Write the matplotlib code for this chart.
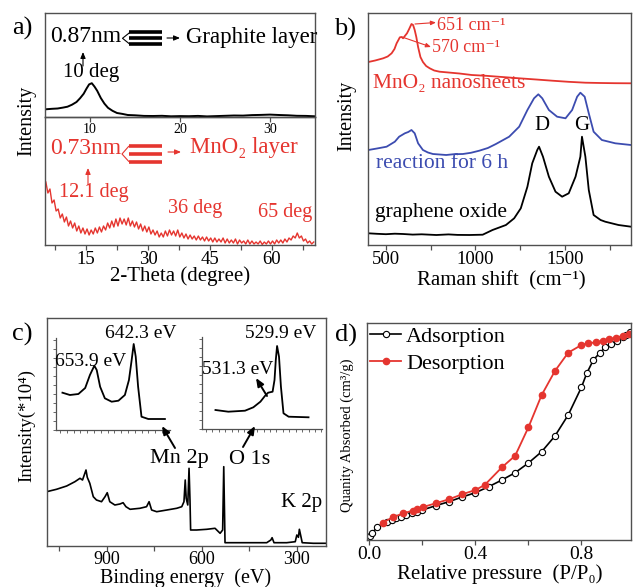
import matplotlib.pyplot as plt
from matplotlib.lines import Line2D
from matplotlib.patches import FancyArrowPatch
from matplotlib.ticker import FixedLocator, MultipleLocator

plt.rcParams['font.family'] = ['Liberation Serif', 'DejaVu Serif', 'Noto Sans CJK SC']

# ---- a) XRD: graphite oxide (top) and MnO2 nanosheets (bottom) ----
go_deg = [5.2, 5.8, 6.4, 7.0, 7.5, 8.0, 8.5, 8.9, 9.3, 9.6, 9.9, 10.2, 10.5, 10.8, 11.2,
          11.6, 12.0, 12.5, 13.0, 13.6, 14.2, 15.0, 16.0, 17.0, 18.0, 19.0, 20.0, 21.0,
          22.0, 23.0, 24.0, 25.0, 26.0, 27.0, 28.0, 29.0, 30.0, 31.0, 32.0, 33.0, 34.0, 35.0]
go_int = [7.8, 8.2, 8.5, 9.4, 10.3, 12.3, 15.0, 18.8, 23.3, 28.2, 32.6, 33.8, 30.4, 26.2, 19.0,
          13.4, 9.2, 6.2, 4.0, 3.1, 2.0, 1.7, 1.1, 1.0, 1.2, 0.7, 0.9, 0.8,
          1.1, 0.6, 0.9, 1.2, 1.5, 1.4, 1.9, 2.1, 2.4, 2.0, 1.7, 1.2, 1.1, 0.7]

mno2_deg = [5.2, 5.7, 6.2, 6.7, 7.2, 7.7, 8.2, 8.7, 9.2, 9.7, 10.2, 10.7, 11.2, 11.7, 12.2,
            12.7, 13.2, 13.7, 14.2, 14.7, 15.2, 15.7, 16.2, 16.7, 17.2, 17.7, 18.2, 18.7,
            19.2, 19.7, 20.2, 20.7, 21.2, 21.7, 22.2, 22.7, 23.2, 23.7, 24.2, 24.7, 25.2,
            25.7, 26.2, 26.7, 27.2, 27.7, 28.2, 28.7, 29.2, 29.7, 30.2, 30.7, 31.2, 31.7,
            32.2, 32.7, 33.2, 33.7, 34.2, 34.7, 35.2, 35.7, 36.2, 36.7, 37.2, 37.7, 38.2,
            38.7, 39.2, 39.7, 40.2, 40.7, 41.2, 41.7, 42.2, 42.7, 43.2, 43.7, 44.2, 44.7,
            45.2, 45.7, 46.2, 46.7, 47.2, 47.7, 48.2, 48.7, 49.2, 49.7, 50.2, 50.7, 51.2,
            51.7, 52.2, 52.7, 53.2, 53.7, 54.2, 54.7, 55.2, 55.7, 56.2, 56.7, 57.2, 57.7,
            58.2, 58.7, 59.2, 59.7, 60.2, 60.7, 61.2, 61.7, 62.2, 62.7, 63.2, 63.7, 64.2,
            64.7, 65.2, 65.7, 66.2, 66.7, 67.2, 67.7, 68.2, 68.7, 69.2, 69.7, 70.2]
mno2_int = [63, 52, 56, 42, 45, 34, 36, 27, 31, 23, 28, 19, 24, 17, 22,
            14, 19, 12, 17, 11, 16, 10, 15, 11, 17, 12, 18, 13,
            19, 15, 22, 17, 24, 18, 26, 19, 27, 21, 26, 20, 27,
            19, 24, 18, 23, 16, 21, 14, 19, 13, 18, 11, 15, 10,
            14, 8, 12, 8, 14, 9, 15, 10, 14, 9, 15, 8, 12,
            7, 11, 6, 10, 6, 9, 5, 9, 5, 8, 4, 8, 4,
            7, 3, 7, 3, 6, 3, 7, 2, 6, 2, 5, 2, 6,
            1, 5, 2, 4, 1, 5, 1, 4, 1, 3, 1, 4, 0.5,
            3, 1, 4, 1, 4, 1, 5, 2, 5, 2, 6, 3, 7,
            5, 9, 7, 12, 7, 9, 4, 6, 2, 4, 1, 3]

# ---- b) Raman ----
raman_mno2_x = [402, 440, 485, 510, 532, 548, 560, 570, 578, 588, 596, 606, 618, 630, 643,
                652, 661, 670, 680, 693, 707, 725, 745, 770, 800, 850, 911, 980, 1060,
                1150, 1245, 1340, 1430, 1520, 1615, 1700, 1780, 1870]
raman_mno2_y = [183, 184.5, 186.7, 188.5, 191.7, 196, 201.7, 205, 207.7, 208, 206.7, 209,
                211.7, 216, 221, 220, 215, 208, 198, 188, 183, 179, 176.7, 174.5, 173.3,
                172.5, 171.5, 170, 169.2, 168, 166.7, 165.5, 164.3, 163.2, 162.3, 162,
                161.8, 161.7]
raman_6h_x = [402, 450, 504, 550, 574, 590, 606, 625, 643, 661, 680, 707, 735, 763, 800, 837,
              880, 930, 975, 1022, 1070, 1115, 1189, 1245, 1291, 1328, 1352, 1374, 1411,
              1457, 1504, 1541, 1569, 1587, 1611, 1634, 1661, 1707, 1782, 1870]
raman_6h_y = [95, 96.5, 98.3, 103.3, 108.3, 110, 111.7, 113, 115, 111.7, 101.7, 95, 92.5, 91,
              90.5, 90, 90.8, 91, 92.2, 94.3, 97, 101, 108.3, 118.3, 135, 146.7, 150.7,
              146.7, 135, 128.3, 126.7, 135, 148.3, 152.3, 148.3, 131.7, 113.3, 105,
              101.7, 100]
raman_go_x = [402, 450, 500, 550, 596, 650, 700, 782, 850, 900, 967, 1041, 1096, 1171, 1217,
              1254, 1291, 1318, 1346, 1356, 1378, 1411, 1448, 1485, 1522, 1560, 1587,
              1596, 1615, 1634, 1661, 1700, 1726, 1800, 1870]
raman_go_y = [11.7, 11.2, 10.8, 11.3, 11, 10.4, 10.7, 10, 10.6, 10.1, 10, 10.3, 15, 20,
              26.7, 36.7, 58.3, 81.7, 95, 98.3, 88.3, 68.3, 53.3, 48.3, 51.7, 68.3,
              88.3, 108.3, 88.3, 55, 30, 25, 23.3, 20, 18.3]

# ---- c) XPS survey and high-resolution insets ----
survey_ev = [1089, 1058, 1026, 1000, 984, 976, 965, 961, 953, 942, 932, 916, 905, 898, 890,
             874, 858, 848, 839, 826, 795, 774, 766, 758, 742, 710, 679, 663, 656, 652,
             649, 644, 640, 637, 635, 616, 584, 558, 542, 534, 530.5, 526.5, 500, 447,
             395, 382, 378, 372, 332, 305, 300, 295, 292, 287, 283, 248, 208]
survey_int = [54.3, 56.7, 60, 64.3, 67.7, 66, 76, 68.7, 62.7, 49.3, 46, 44.3, 49.3, 53.3,
              44.3, 41, 42, 43.3, 39.3, 36.7, 37.7, 39.3, 44.3, 36, 34.3, 36, 37.7, 39.3,
              44.3, 66, 47.7, 41, 77.7, 46, 16, 16, 16.7, 17.7, 12.7, 16, 79.3, 3.3, 3.3,
              3.3, 3.3, 6, 8.3, 3.3, 3.3, 4.3, 11, 8.7, 16.7, 9.3, 3.3, 2.7, 2.7]
mn2p_ev = [663.3, 661.1, 658.6, 656.6, 655.2, 653.9, 653.2, 652.2, 650.8, 648.8, 646.8,
           644.9, 643.7, 642.9, 642.3, 641.7, 641.0, 640.0, 638.0, 633.1]
mn2p_int = [37.3, 35, 36, 42, 55, 64.3, 60, 43.3, 31.7, 28.3, 29.3, 35, 50, 70, 86, 73.3,
            43.3, 13.3, 11, 11]
o1s_ev = [539.5, 537.5, 534.9, 533.6, 532.5, 531.8, 531.3, 530.6, 530.3, 530.1, 529.9,
          529.6, 529.3, 528.9, 528.1, 525.0]
o1s_int = [19, 17.3, 18.3, 21.7, 27.3, 33, 36.3, 37.3, 49, 69, 83, 72.3, 42.3, 15.7, 12.3,
           11.7]

# ---- d) N2 adsorption / desorption isotherm ----
ads_p = [0.003, 0.01, 0.03, 0.065, 0.085, 0.10, 0.12, 0.14, 0.16, 0.18, 0.20, 0.25, 0.30,
         0.35, 0.40, 0.45, 0.50, 0.55, 0.60, 0.65, 0.70, 0.75, 0.80, 0.82, 0.845, 0.87,
         0.89, 0.91, 0.935, 0.955, 0.97, 0.985]
ads_q = [4, 7, 13, 18.3, 20, 22, 23.3, 25, 27, 28.3, 30, 34.3, 38.3, 43, 47.3, 53.3, 60,
         67.3, 77, 88.3, 104, 125, 152.7, 166.7, 180, 187.3, 192.7, 196, 199.3, 202.7, 205,
         208.3]
des_p = [0.05, 0.088, 0.128, 0.163, 0.18, 0.203, 0.25, 0.30, 0.35, 0.40, 0.435, 0.50, 0.55,
         0.60, 0.65, 0.70, 0.75, 0.80, 0.825, 0.855, 0.88, 0.905, 0.93, 0.955, 0.98]
des_q = [17.3, 22.7, 26.7, 29.3, 31, 33, 36.7, 40.7, 45.7, 50, 55, 72.7, 84.3, 112.7, 145,
         169, 187.3, 195, 196.7, 197.7, 199, 200.7, 202.3, 204, 206]

xrd_top_ticks = [10, 20, 30]
xrd_bot_ticks = [15, 30, 45, 60]
raman_ticks = [500, 1000, 1500]
xps_ticks = [900, 600, 300]
bet_ticks = [0.0, 0.4, 0.8]
bet_labels = ['0.0', '0.4', '0.8']

W, H = 633, 587
RED = '#e5352f'
BLUE = '#3c4cb0'
EDGE = '#505050'

fig = plt.figure(figsize=(W / 100, H / 100), dpi=100)


def box(x0, y0, x1, y1):
    return [x0 / W, 1 - y1 / H, (x1 - x0) / W, (y1 - y0) / H]


def fxy(x, y):
    return (x / W, 1 - y / H)


def ftext(x, y, s, size, color='k', ha='center', va='center', **kw):
    fig.text(x / W, 1 - y / H, s, fontsize=size, color=color, ha=ha, va=va, **kw)


def fline(xs, ys, color='k', lw=1.0):
    fig.add_artist(Line2D([x / W for x in xs], [1 - y / H for y in ys],
                          transform=fig.transFigure, color=color, lw=lw,
                          solid_capstyle='butt'))


def farrow(x0, y0, x1, y1, color='k', lw=0.8, size=7):
    fig.add_artist(FancyArrowPatch(fxy(x0, y0), fxy(x1, y1), transform=fig.transFigure,
                                   arrowstyle='-|>,head_length=0.6,head_width=0.25',
                                   mutation_scale=size, color=color, lw=lw,
                                   shrinkA=0, shrinkB=0))


def frame(ax, xticks, minor=None, size=13.5, pad=0.5):
    for s in ax.spines.values():
        s.set_color(EDGE)
        s.set_linewidth(1.0)
    ax.set_yticks([])
    ax.set_xticks(xticks)
    if minor is not None:
        ax.xaxis.set_minor_locator(FixedLocator(minor))
    ax.tick_params(axis='x', which='both', direction='out', length=3.5, width=0.9,
                   color=EDGE, labelsize=size, pad=pad)


# ---------------- a) ----------------
ax_a2 = fig.add_axes(box(45, 117, 315, 245))
ax_a2.plot(mno2_deg, mno2_int, color=RED, lw=1.0)
ax_a2.set_xlim(5, 70.5)
ax_a2.set_ylim(0, 128)
frame(ax_a2, xrd_bot_ticks, [7.5, 22.5, 37.5, 52.5, 67.5])

ax_a1 = fig.add_axes(box(45, 13, 315, 117))
ax_a1.patch.set_alpha(0)
ax_a1.plot(go_deg, go_int, color='k', lw=1.4)
ax_a1.set_xlim(5, 35)
ax_a1.set_ylim(0, 104)
frame(ax_a1, xrd_top_ticks, size=10)

ftext(22, 28, 'a)', 19)
ftext(27, 121, 'Intensity', 14.5, rotation=90)
ftext(180, 281, '2-Theta (degree)', 15, va='baseline')

ftext(50, 37, '0.87nm', 17, ha='left')
for y in (32.3, 38.3, 44.3):
    fline([129, 162], [y, y], lw=2.6)
fline([130, 122.5, 130], [32.3, 38.3, 44.3], lw=0.8)
farrow(167, 38, 180, 38, size=6)
ftext(186, 37, 'Graphite layer', 16.5, ha='left')
farrow(83, 66, 83, 52, size=6)
ftext(91.5, 72, '10 deg', 15)

ftext(50, 148, '0.73nm', 17, color=RED, ha='left')
for y in (146, 154, 161.7):
    fline([129, 162], [y, y], color=RED, lw=2.6)
fline([129, 122, 129], [146, 154, 161.7], color=RED, lw=0.8)
farrow(168, 152, 181, 152, color=RED, size=6)
ftext(190, 147, 'MnO₂ layer', 16.5, color=RED, ha='left')
farrow(88, 185, 88, 168, color=RED, size=6)
ftext(94, 193, '12.1 deg', 14.5, color=RED)
ftext(195, 209, '36 deg', 14.5, color=RED)
ftext(285.5, 213, '65 deg', 14.5, color=RED)

# ---------------- b) ----------------
ax_b = fig.add_axes(box(368, 13, 631, 245))
ax_b.plot(raman_mno2_x, raman_mno2_y, color=RED, lw=1.3)
ax_b.plot(raman_6h_x, raman_6h_y, color=BLUE, lw=1.3)
ax_b.plot(raman_go_x, raman_go_y, color='k', lw=1.3)
ax_b.set_xlim(400, 1870)
ax_b.set_ylim(0, 232)
frame(ax_b, raman_ticks, [750, 1250, 1750])

ftext(345, 29, 'b)', 19)
ftext(347, 116, 'Intensity', 14.5, rotation=90)
ftext(501, 285, 'Raman shift  (cm⁻¹)', 15, va='baseline')
farrow(415, 24, 436, 22.5, color=RED, lw=0.8, size=5)
ftext(437, 25, '651 cm⁻¹', 13, color=RED, ha='left')
farrow(402, 37, 431, 47, color=RED, lw=0.8, size=5)
ftext(432, 48, '570 cm⁻¹', 13, color=RED, ha='left')
ftext(373, 83, 'MnO₂ nanosheets', 15.5, color=RED, ha='left')
ftext(376, 164, 'reaction for 6 h', 15.5, color=BLUE, ha='left')
ftext(375, 212, 'graphene oxide', 15.5, ha='left')
ftext(542, 125, 'D', 15)
ftext(582, 125, 'G', 15)

# ---------------- c) ----------------
ax_c = fig.add_axes(box(47, 318, 326, 546))
ax_c.plot(survey_ev, survey_int, color='k', lw=1.2)
ax_c.set_xlim(1088, 208)
ax_c.set_ylim(0, 228)
frame(ax_c, xps_ticks, [1050, 750, 450], size=13, pad=0)

for rect, ev, inten, xl, step in [((56, 338, 170, 430), mn2p_ev, mn2p_int, (665.2, 631.6), 2),
                                   ((202, 337, 322, 429), o1s_ev, o1s_int, (541.6, 522.9), 1)]:
    ax_in = fig.add_axes(box(*rect))
    ax_in.patch.set_alpha(0)
    ax_in.plot(ev, inten, color='k', lw=1.3)
    ax_in.set_xlim(*xl)
    ax_in.set_ylim(0, 92)
    ax_in.spines['top'].set_visible(False)
    ax_in.spines['right'].set_visible(False)
    for s in ('left', 'bottom'):
        ax_in.spines[s].set_color(EDGE)
        ax_in.spines[s].set_linewidth(0.9)
    ax_in.xaxis.set_major_locator(MultipleLocator(step))
    ax_in.yaxis.set_major_locator(MultipleLocator(9))
    ax_in.tick_params(which='both', direction='out', length=2, width=0.6, color=EDGE,
                      labelbottom=False, labelleft=False)

ftext(22, 334, 'c)', 19)
ftext(27, 426, 'Intensity(*10⁴)', 13.5, rotation=90)
ftext(186, 583, 'Binding energy  (eV)', 14.5, va='baseline')
ftext(141, 333, '642.3 eV', 14)
ftext(91, 361, '653.9 eV', 14)
ftext(281, 333, '529.9 eV', 14)
ftext(238, 370, '531.3 eV', 14)
farrow(267, 396, 256, 378, lw=1.4, size=8)
farrow(175, 448, 162, 426, lw=1.4, size=8)
farrow(243, 447, 255, 426, lw=1.4, size=8)
ftext(179, 459, 'Mn 2p', 16)
ftext(250, 459, 'O 1s', 16)
ftext(302, 502, 'K 2p', 15)

# ---------------- d) ----------------
ax_d = fig.add_axes(box(367, 323, 631, 540))
ax_d.plot(ads_p, ads_q, color='k', lw=1.2, marker='o', ms=4.5, mfc='white', mec='k',
          mew=0.8, label='Adsorption')
ax_d.plot(des_p, des_q, color=RED, lw=1.3, marker='o', ms=4.5, mfc=RED, mec=RED,
          label='Desorption')
ax_d.set_xlim(-0.009, 0.987)
ax_d.set_ylim(0, 217)
frame(ax_d, bet_ticks, [0.2, 0.6], size=14)
ax_d.set_xticklabels(bet_labels)
ax_d.legend(loc='upper left', bbox_to_anchor=(0.0, 1.0), frameon=False, fontsize=16,
            handlelength=1.4, handletextpad=0.2, labelspacing=0.3, borderaxespad=0,
            borderpad=0.15)

ftext(346, 335, 'd)', 19)
ftext(347, 435, 'Quanity Absorbed (cm³/g)', 10.5, rotation=90)
ftext(500, 579, 'Relative pressure  (P/P₀)', 15, va='baseline')

fig.savefig('out.png', dpi=100)
